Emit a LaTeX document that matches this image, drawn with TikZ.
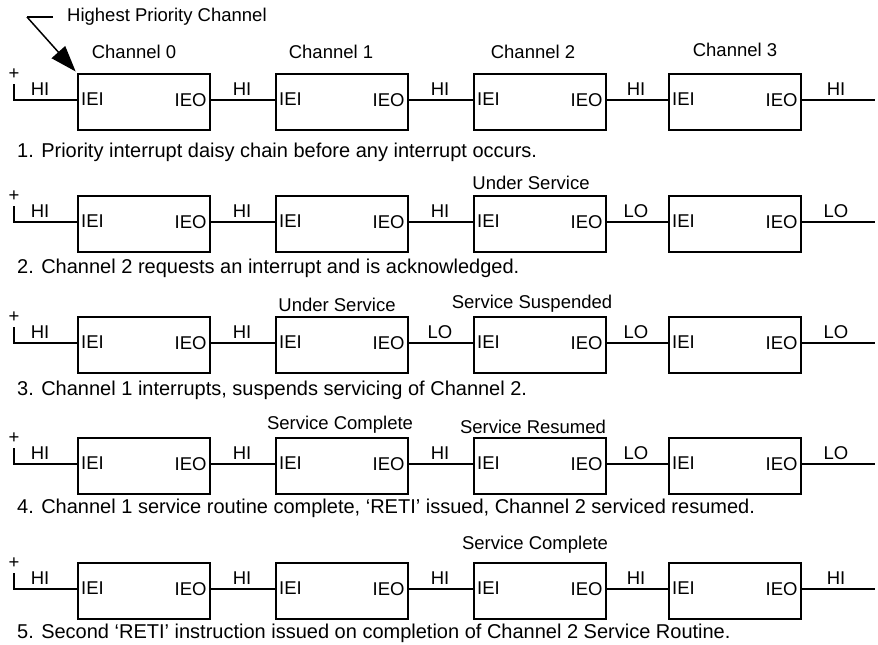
\documentclass[tikz,border=0pt]{standalone}
\usepackage{fontspec}
\setmainfont{Liberation Sans}
\usetikzlibrary{arrows.meta}
\tikzset{
  chbox/.style={draw, line width=1.8pt, minimum width=132pt, minimum height=56pt, inner sep=0pt, anchor=north west},
  wire/.style={line width=1.8pt},
  lbl/.style={font=\fontsize{18.5}{21}\selectfont, inner sep=0pt},
  caplbl/.style={font=\fontsize{20}{23}\selectfont, inner sep=0pt, anchor=west},
}
\newcommand\chainrow[8]{%
  \coordinate (#1y) at (0,#2);
  \foreach \i/\x in {0/77,1/275,2/473,3/668}{
    \node[chbox] (#1b\i) at (\x,#2-27) {};
    \node[lbl,anchor=west] (#1i\i) at ([xshift=4pt,yshift=1pt]#1b\i.west |- #1y) {IEI};
    \node[lbl,anchor=east] (#1o\i) at ([xshift=-4pt]#1b\i.east |- #1y) {IEO};
  }
  \coordinate (#1s) at (14,#2-16);
  \coordinate (#1e) at (875,#2);
  \node[lbl] (#1plus) at (14,#2-26) {+};
  \draw[wire] (#1s) |- (#1b0.west |- #1y);
  \draw[wire] (#1b0.east |- #1y) -- (#1b1.west |- #1y);
  \draw[wire] (#1b1.east |- #1y) -- (#1b2.west |- #1y);
  \draw[wire] (#1b2.east |- #1y) -- (#1b3.west |- #1y);
  \draw[wire] (#1b3.east |- #1y) -- (#1e);
  \node[lbl] (#1l0) at (40,#2-11) {HI};
  \node[lbl] (#1l1) at (242,#2-11) {#3};
  \node[lbl] (#1l2) at (440,#2-11) {#4};
  \node[lbl] (#1l3) at (636,#2-11) {#5};
  \node[lbl] (#1l4) at (836,#2-11) {#6};
  \node[caplbl] (#1cap) at (17,#7) {#8};
}
\begin{document}
\begin{tikzpicture}[x=1pt,y=-1pt]
\useasboundingbox (0,0) rectangle (878,645);
\chainrow{a}{100}{HI}{HI}{HI}{HI}{152}{1. Priority interrupt daisy chain before any interrupt occurs.}
\chainrow{b}{222}{HI}{HI}{LO}{LO}{268}{2. Channel 2 requests an interrupt and is acknowledged.}
\chainrow{c}{343}{HI}{LO}{LO}{LO}{390}{3. Channel 1 interrupts, suspends servicing of Channel 2.}
\chainrow{d}{464}{HI}{HI}{LO}{LO}{508}{4. Channel 1 service routine complete, ‘RETI’ issued, Channel 2 serviced resumed.}
\chainrow{e}{589}{HI}{HI}{HI}{HI}{633}{5. Second ‘RETI’ instruction issued on completion of Channel 2 Service Routine.}
% channel names
\node[lbl] (ch0) at (134,52) {Channel 0};
\node[lbl] (ch1) at (331,52) {Channel 1};
\node[lbl] (ch2) at (533,52) {Channel 2};
\node[lbl] (ch3) at (735,50) {Channel 3};
% status labels
\node[lbl] (bus2) at (531,183) {Under Service};
\node[lbl] (cus1) at (337,305) {Under Service};
\node[lbl] (css2) at (532,304) {Service Suspended};
\node[lbl] (dsc1) at (340,425) {Service Complete};
\node[lbl] (dsr2) at (533,427) {Service Resumed};
\node[lbl] (esc2) at (535,545) {Service Complete};
% highest priority pointer
\node[lbl,anchor=west] (hpc) at (67,17) {Highest Priority Channel};
\coordinate (hk) at (27,17);
\draw[line width=1.5pt] ([xshift=-14pt]hpc.west) -- (hk);
\draw[line width=1.5pt,-{Triangle[length=26pt,width=18pt]},shorten >=2pt] (hk) -- (ab0.north west);
\end{tikzpicture}
\end{document}
